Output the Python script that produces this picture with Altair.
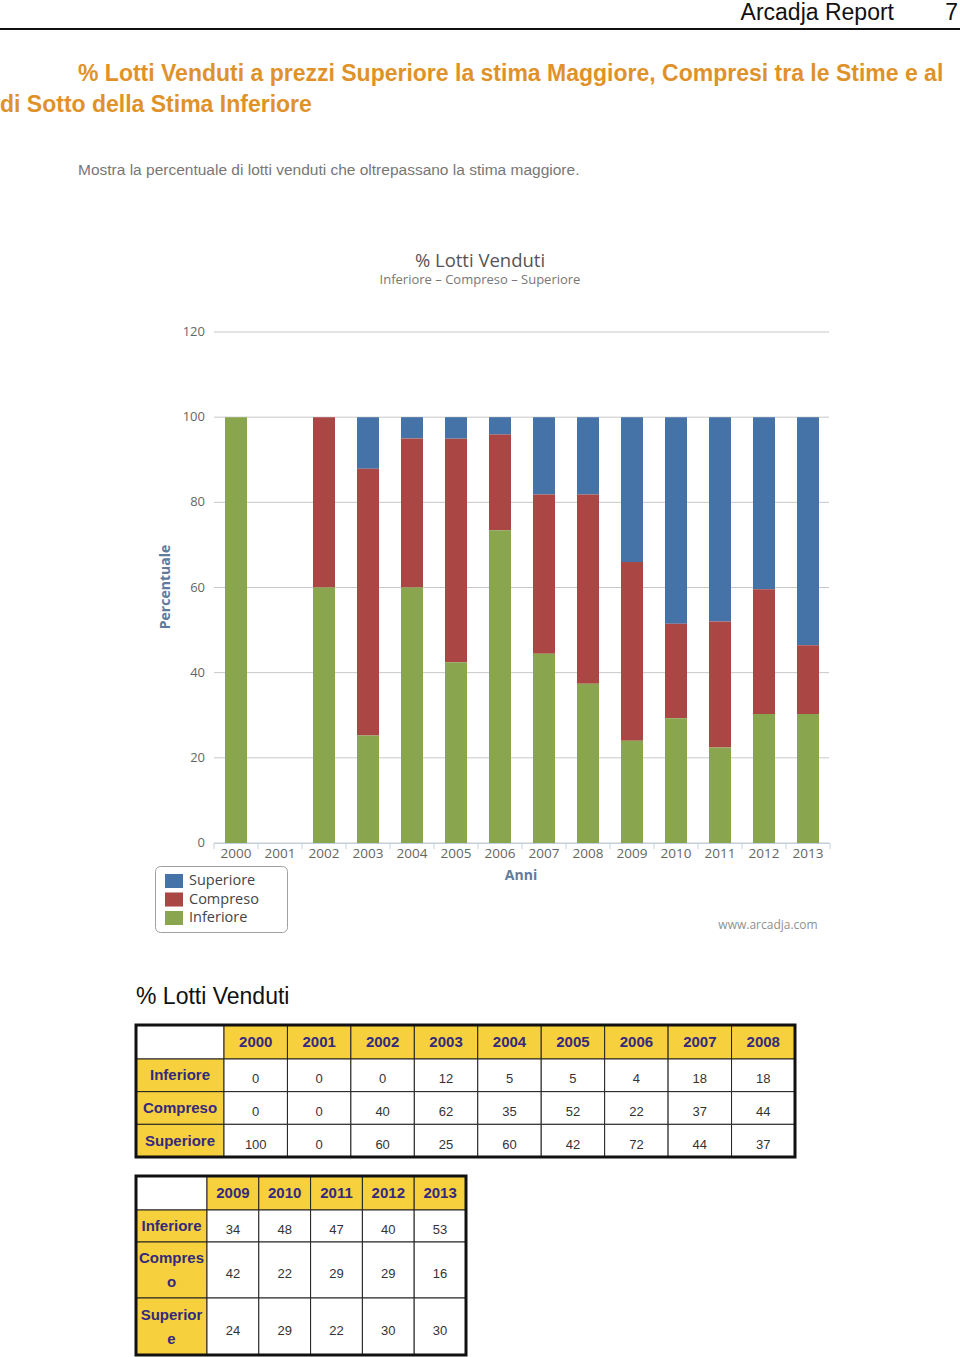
import altair as alt
import pandas as pd

# ---------------- data ----------------
years = ["2000", "2001", "2002", "2003", "2004", "2005", "2006",
         "2007", "2008", "2009", "2010", "2011", "2012", "2013"]
inferiore = [0, 0, 0, 12, 5, 5, 4, 18, 18, 34, 48, 47, 40, 53]
compreso = [0, 0, 40, 62, 35, 52, 22, 37, 44, 42, 22, 29, 29, 16]
superiore = [100, 0, 60, 25, 60, 42, 72, 44, 37, 24, 29, 22, 30, 30]

# series as labelled in the chart legend (top to bottom of legend)
chart_series = ["Superiore", "Compreso", "Inferiore"]
chart_colors = ["#4572A7", "#AA4643", "#89A54E"]
# in the source picture the green base series carries the table's "Superiore" row
chart_values = {"Superiore": inferiore, "Compreso": compreso, "Inferiore": superiore}
stack_order = {"Inferiore": 0, "Compreso": 1, "Superiore": 2}

y_ticks = [0, 20, 40, 60, 80, 100, 120]

table_rows = [inferiore, compreso, superiore]
table1_labels = ["Inferiore", "Compreso", "Superiore"]
table2_labels = ["Inferiore", "Compres\no", "Superior\ne"]
table1_years = years[:9]
table2_years = years[9:]

FONT = "Liberation Sans"
CFONT = "Open Sans"

one = pd.DataFrame({"k": [0]})


def txt(s, x, y, size, color, align="left", weight="normal", font=FONT,
        baseline="middle", angle=0):
    return alt.Chart(one).mark_text(
        text=s, align=align, baseline=baseline, fontSize=size, color=color,
        fontWeight=weight, font=font, angle=angle
    ).encode(x=alt.value(x), y=alt.value(y))


layers = []

# ---------------- page header ----------------
layers.append(txt("Arcadja Report", 894, 13, 23, "#111", align="right"))
layers.append(txt("7", 958, 13, 23, "#111", align="right"))
layers.append(alt.Chart(one).mark_rule(color="#111", strokeWidth=2).encode(
    x=alt.value(0), x2=alt.value(960), y=alt.value(29)))

ORANGE = "#E0922A"
layers.append(txt("% Lotti Venduti a prezzi Superiore la stima Maggiore, Compresi tra le Stime e al",
                  78, 74, 23, ORANGE, weight="bold"))
layers.append(txt("di Sotto della Stima Inferiore", 0, 105, 23, ORANGE, weight="bold"))
layers.append(txt("Mostra la percentuale di lotti venduti che oltrepassano la stima maggiore.",
                  78, 170, 15.5, "#777"))

# ---------------- bar chart ----------------
layers.append(txt("% Lotti Venduti", 480, 261, 18.5, "#555", align="center", font=CFONT))
layers.append(txt("Inferiore \u2013 Compreso \u2013 Superiore", 480, 280, 13, "#777",
                  align="center", font=CFONT))

grid_df = pd.DataFrame({"v": y_ticks})
yq = alt.Scale(domain=[0, 120], range=[843, 332])
layers.append(alt.Chart(grid_df).mark_rule(color="#C8C8C8", strokeWidth=1).encode(
    x=alt.value(214), x2=alt.value(829),
    y=alt.Y("v:Q", scale=yq, axis=None)))
layers.append(alt.Chart(grid_df).mark_text(
    align="right", baseline="middle", fontSize=13, color="#666", font=CFONT
).encode(x=alt.value(205), y=alt.Y("v:Q", scale=yq, axis=None), text="v:Q"))

# x tick marks between categories
tick_df = pd.DataFrame({"i": list(range(len(years) + 1))})
layers.append(alt.Chart(tick_df).mark_rule(color="#C0D0E0", strokeWidth=1).encode(
    x=alt.X("i:Q", scale=alt.Scale(domain=[0, len(years)], range=[214, 830]), axis=None),
    y=alt.value(843), y2=alt.value(849)))
layers.append(alt.Chart(one).mark_rule(color="#C0D0E0", strokeWidth=1).encode(
    x=alt.value(214), x2=alt.value(830), y=alt.value(843.5)))

bar_rows = []
for s in chart_series:
    for y, v in zip(years, chart_values[s]):
        bar_rows.append({"year": y, "series": s, "value": v, "ord": stack_order[s]})
bars_df = pd.DataFrame(bar_rows)

xband = alt.Scale(domain=years, range=[214, 830], paddingInner=0.5, paddingOuter=0.25)
layers.append(alt.Chart(bars_df).transform_filter("datum.value > 0").mark_bar().encode(
    x=alt.X("year:N", scale=xband, axis=None),
    y=alt.Y("value:Q", stack="normalize",
            scale=alt.Scale(domain=[0, 1.2], range=[843, 332]), axis=None),
    color=alt.Color("series:N", scale=alt.Scale(domain=chart_series, range=chart_colors),
                    legend=None),
    order=alt.Order("ord:Q", sort="ascending")))

year_df = pd.DataFrame({"year": years})
layers.append(alt.Chart(year_df).mark_text(
    baseline="middle", fontSize=13.5, color="#666", font=CFONT
).encode(x=alt.X("year:N", scale=xband, axis=None), y=alt.value(854), text="year:N"))

layers.append(txt("Anni", 521, 876, 14, "#5F7C9C", align="center", weight="bold", font=CFONT))
layers.append(txt("Percentuale", 166, 587, 14, "#5F7C9C", align="center", weight="bold",
                  font=CFONT, angle=270))

# legend
layers.append(alt.Chart(one).mark_rect(fill="white", stroke="#A0A0A0", strokeWidth=1,
                                       cornerRadius=5).encode(
    x=alt.value(155.5), x2=alt.value(287.5), y=alt.value(866.5), y2=alt.value(932.5)))
leg_df = pd.DataFrame({"series": chart_series})
leg_y = alt.Scale(type="point", domain=chart_series, range=[881, 918], padding=0)
layers.append(alt.Chart(leg_df).mark_point(
    shape="M-1,-0.78H1V0.78H-1Z", size=324, filled=True, opacity=1, strokeWidth=0
).encode(
    x=alt.value(174),
    y=alt.Y("series:N", scale=leg_y, axis=None),
    color=alt.Color("series:N", scale=alt.Scale(domain=chart_series, range=chart_colors),
                    legend=None)))
layers.append(alt.Chart(leg_df).mark_text(
    align="left", baseline="middle", fontSize=14.5, color="#444", font=CFONT
).encode(x=alt.value(189), y=alt.Y("series:N", scale=leg_y, axis=None), text="series:N"))

layers.append(txt("www.arcadja.com", 768, 925, 12, "#909090", align="center", font=CFONT))

# ---------------- tables ----------------
layers.append(txt("% Lotti Venduti", 136, 997, 23, "#111"))

YELLOW = "#F6D13D"
PURPLE = "#35297E"


def table_layers(yrs, labels, start, xs, ys, line_height=24):
    cells = [{"c": 0, "r": 0, "kind": "corner", "text": ""}]
    for j, y in enumerate(yrs):
        cells.append({"c": j + 1, "r": 0, "kind": "head", "text": y})
    for i, lab in enumerate(labels):
        kind = "head2" if "\n" in lab else "head"
        cells.append({"c": 0, "r": i + 1, "kind": kind, "text": lab})
        for j in range(len(yrs)):
            cells.append({"c": j + 1, "r": i + 1, "kind": "val",
                          "text": str(table_rows[i][start + j])})
    df = pd.DataFrame(cells)
    df["c1"] = df["c"] + 1
    df["r1"] = df["r"] + 1
    df["cm"] = df["c"] + 0.5
    df["rm"] = df["r"] + 0.5
    out = []
    out.append(alt.Chart(df).mark_rect(stroke="#222", strokeWidth=1).encode(
        x=alt.X("c:Q", scale=xs, axis=None), x2="c1:Q",
        y=alt.Y("r:Q", scale=ys, axis=None), y2="r1:Q",
        fill=alt.Fill("kind:N",
                      scale=alt.Scale(domain=["corner", "head", "head2", "val"],
                                      range=["#FFFFFF", YELLOW, YELLOW, "#FFFFFF"]),
                      legend=None)))
    border = pd.DataFrame({"c": [0], "c1": [len(yrs) + 1], "r": [0], "r1": [len(labels) + 1]})
    out.append(alt.Chart(border).mark_rect(fillOpacity=0, stroke="#111", strokeWidth=3).encode(
        x=alt.X("c:Q", scale=xs, axis=None), x2="c1:Q",
        y=alt.Y("r:Q", scale=ys, axis=None), y2="r1:Q"))
    out.append(alt.Chart(df).transform_filter("datum.kind == 'head'").mark_text(
        baseline="middle", fontSize=15, fontWeight="bold", color=PURPLE, font=FONT
    ).encode(x=alt.X("cm:Q", scale=xs, axis=None), y=alt.Y("rm:Q", scale=ys, axis=None),
             text="text:N"))
    if (df["kind"] == "head2").any():
        out.append(alt.Chart(df).transform_filter("datum.kind == 'head2'").mark_text(
            baseline="middle", fontSize=15, fontWeight="bold", color=PURPLE, font=FONT,
            lineBreak="\n", lineHeight=line_height, dy=-line_height / 2
        ).encode(x=alt.X("cm:Q", scale=xs, axis=None), y=alt.Y("rm:Q", scale=ys, axis=None),
                 text="text:N"))
    out.append(alt.Chart(df).transform_filter("datum.kind == 'val'").mark_text(
        baseline="middle", fontSize=13, color="#333", font=FONT, dy=4
    ).encode(x=alt.X("cm:Q", scale=xs, axis=None), y=alt.Y("rm:Q", scale=ys, axis=None),
             text="text:N"))
    return out


xs1 = alt.Scale(domain=[0, 1, len(table1_years) + 1], range=[136, 224, 795])
ys1 = alt.Scale(domain=[0, 1, 4], range=[1025, 1059, 1157])
layers += table_layers(table1_years, table1_labels, 0, xs1, ys1)

xs2 = alt.Scale(domain=[0, 1, len(table2_years) + 1], range=[136, 207, 466])
ys2 = alt.Scale(domain=[0, 1, 2, 3, 4], range=[1176, 1210, 1242, 1298, 1355])
layers += table_layers(table2_years, table2_labels, 9, xs2, ys2)

chart = alt.layer(*layers).resolve_scale(
    x="independent", y="independent", color="independent", fill="independent"
).properties(
    width=960, height=1357, padding=0,
    autosize=alt.AutoSizeParams(type="none"), background="white"
).configure_view(stroke=None)

chart.save("out.html", embed_options={"renderer": "svg", "actions": False})
